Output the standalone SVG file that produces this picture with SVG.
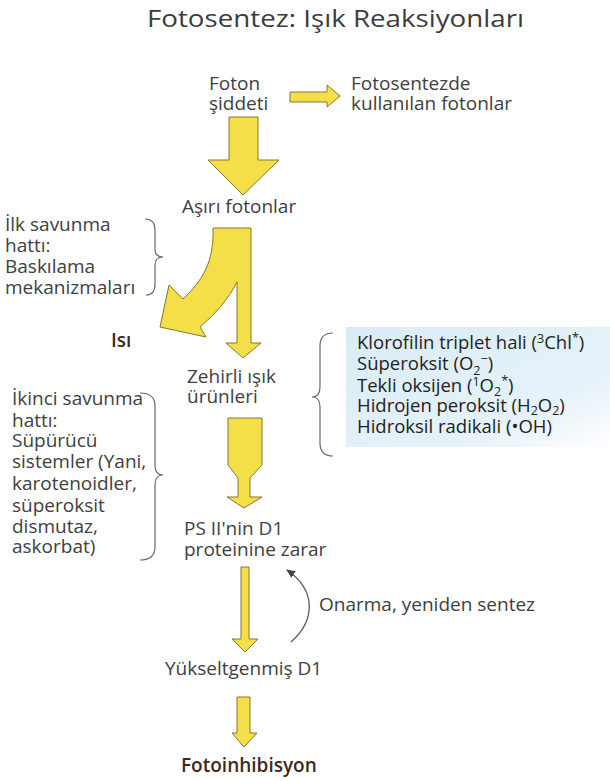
<svg xmlns="http://www.w3.org/2000/svg" width="610" height="781" viewBox="0 0 610 781">
<defs>
<style>
.t{font-family:"Open Sans","Noto Sans","Liberation Sans",sans-serif;font-size:19px;fill:#404040}
.b{font-family:"Open Sans","Noto Sans","Liberation Sans",sans-serif;font-size:18.5px;fill:#1e1e1e}
.title{font-family:"Open Sans","Noto Sans","Liberation Sans",sans-serif;font-size:23px;fill:#3c3c3c}
.bold{font-weight:600;fill:#3a2a1e}
.arr{fill:#f5df48;stroke:#857534;stroke-width:1;stroke-linejoin:round}
.brace{fill:none;stroke:#6a6a6a;stroke-width:1.2}
.sm{font-size:12.5px}
</style>
<linearGradient id="blue" x1="0" y1="0" x2="1" y2="1">
<stop offset="0" stop-color="#d9ecf6"/>
<stop offset="0.7" stop-color="#e6f2f9"/>
<stop offset="1" stop-color="#ffffff"/>
</linearGradient>
<marker id="ah" markerWidth="10" markerHeight="10" refX="8" refY="5" orient="auto" markerUnits="userSpaceOnUse">
<path d="M0,1 L9,5 L0,9 Z" fill="#444"/>
</marker>
</defs>
<rect width="610" height="781" fill="#ffffff"/>

<text class="title" x="147" y="27" textLength="377" lengthAdjust="spacingAndGlyphs">Fotosentez: Işık Reaksiyonları</text>

<g id="connectors">
<path class="arr" d="M290,92 L327,92 L327,85 L340,96 L327,107 L327,102 L290,102 Z"/>
<path class="arr" d="M229,117 L258,117 L258,160 L279,160 L243,195 L208,160 L229,160 Z"/>
<path class="arr" d="M213,228 L251,228 L251,343 L261,343 L243,358 L226,343 L237,343 L237,282 Q226,305 200,327 L206,337 L160,327 L169,285 L183,299 C203,280 214,262 213,228 Z"/>
<path class="arr" d="M228,418 L262,418 L262,465 L250,478 L250,497 L262,497 L244,508 L227,497 L238,497 L238,478 L228,465 Z"/>
<path class="arr" d="M241,567 L249,567 L249,639 L258,639 L245,652 L232,639 L241,639 Z"/>
<path class="arr" d="M237,697 L250,697 L250,733 L257,733 L244,747 L232,733 L237,733 Z"/>
<path d="M291,642 C316,620 316,590 287,570" fill="none" stroke="#5a5a5a" stroke-width="1.3" marker-end="url(#ah)"/>
</g>

<g id="node-foton">
<text class="t" x="209" y="90">Foton</text>
<text class="t" x="209" y="110">şiddeti</text>
</g>
<g id="node-fotosentezde">
<text class="t" x="351" y="90">Fotosentezde</text>
<text class="t" x="351" y="110">kullanılan fotonlar</text>
</g>
<g id="node-asiri">
<text class="t" x="182" y="213">Aşırı fotonlar</text>
</g>
<g id="node-ilk">
<text class="t" x="5" y="231">İlk savunma</text>
<text class="t" x="5" y="252">hattı:</text>
<text class="t" x="5" y="273">Baskılama</text>
<text class="t" x="5" y="294">mekanizmaları</text>
<path class="brace" d="M145,219 Q155,219 155,230 L155,249 Q155,257 163,257 Q155,257 155,265 L155,284 Q155,295 146,295"/>
</g>
<g id="node-isi">
<text class="t bold" x="111" y="347">Isı</text>
</g>
<g id="node-zehirli">
<text class="t" x="187" y="383">Zehirli ışık</text>
<text class="t" x="187" y="403">ürünleri</text>
</g>
<g id="node-turler">
<rect x="346" y="327" width="264" height="120" fill="url(#blue)"/>
<path class="brace" d="M333,333 Q320,333 320,346 L320,387 Q320,397 312,397 Q320,397 320,407 L320,443 Q320,456 333,456"/>
<text class="b" x="357" y="349">Klorofilin triplet hali  (<tspan class="sm" dy="-6">3</tspan><tspan dy="6">Chl</tspan><tspan class="sm" dy="-7">*</tspan><tspan dy="7">)</tspan></text>
<text class="b" x="357" y="370">Süperoksit  (O<tspan class="sm" dy="5">2</tspan><tspan class="sm" dy="-12">−</tspan><tspan dy="7">)</tspan></text>
<text class="b" x="357" y="392">Tekli oksijen  (<tspan class="sm" dy="-6">1</tspan><tspan dy="6">O</tspan><tspan class="sm" dy="4">2</tspan><tspan class="sm" dy="-11">*</tspan><tspan dy="7">)</tspan></text>
<text class="b" x="357" y="412">Hidrojen peroksit (H<tspan class="sm" dy="3">2</tspan><tspan dy="-3">O</tspan><tspan class="sm" dy="3">2</tspan><tspan dy="-3">)</tspan></text>
<text class="b" x="357" y="433">Hidroksil radikali (•OH)</text>
</g>
<g id="node-ikinci">
<text class="t" x="12" y="405">İkinci savunma</text>
<text class="t" x="12" y="427">hattı:</text>
<text class="t" x="12" y="447">Süpürücü</text>
<text class="t" x="12" y="468">sistemler (Yani,</text>
<text class="t" x="12" y="490">karotenoidler,</text>
<text class="t" x="12" y="512">süperoksit</text>
<text class="t" x="12" y="533">dismutaz,</text>
<text class="t" x="12" y="553">askorbat)</text>
<path class="brace" d="M140,393 Q155,393 155,406 L155,465 Q155,475 163,475 Q155,475 155,485 L155,547 Q155,560 140,560"/>
</g>
<g id="node-psii">
<text class="t" x="184" y="535">PS II'nin  D1</text>
<text class="t" x="184" y="556">proteinine zarar</text>
</g>
<g id="node-onarma">
<text class="t" x="319" y="611">Onarma, yeniden sentez</text>
</g>
<g id="node-yukseltgenmis">
<text class="t" x="165" y="675">Yükseltgenmiş D1</text>
</g>
<g id="node-fotoinhibisyon">
<text class="t bold" x="181" y="772">Fotoinhibisyon</text>
</g>
</svg>
